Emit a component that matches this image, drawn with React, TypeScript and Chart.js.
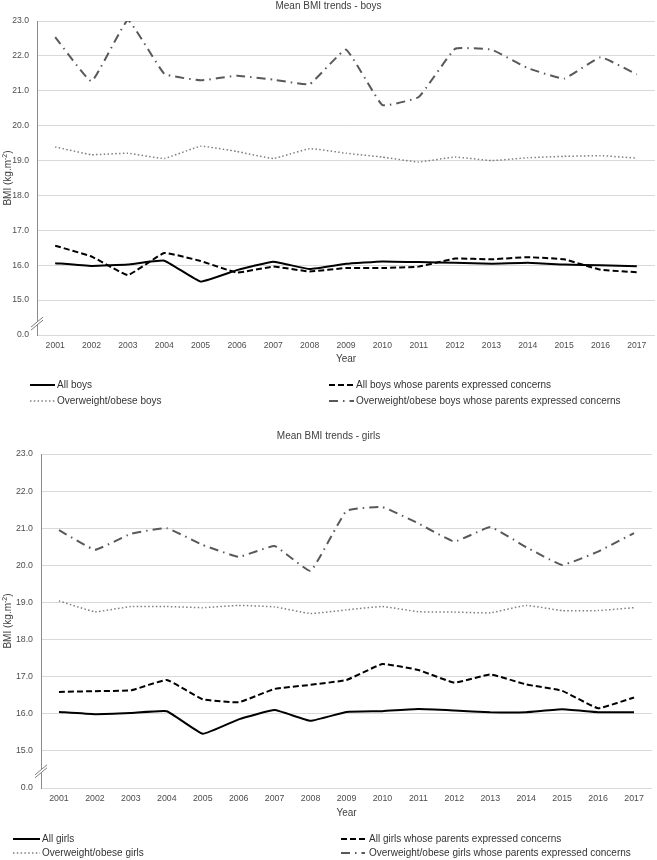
import React, { useEffect, useRef } from 'react';
import { Chart, registerables } from 'chart.js';

Chart.register(...registerables);

const years = ['2001', '2002', '2003', '2004', '2005', '2006', '2007', '2008', '2009', '2010', '2011', '2012', '2013', '2014', '2015', '2016', '2017'];

// y axis: the bottom tick (14) stands for the broken-axis "0.0"
const yMin = 14;
const yMax = 23;
const breakLabel = '0.0';

const boysAll = [16.06, 15.98, 16.02, 16.13, 15.53, 15.86, 16.1, 15.89, 16.04, 16.11, 16.09, 16.07, 16.04, 16.07, 16.02, 16.0, 15.97];
const boysConcern = [16.56, 16.25, 15.72, 16.35, 16.12, 15.79, 15.96, 15.82, 15.92, 15.92, 15.96, 16.19, 16.17, 16.23, 16.17, 15.87, 15.8];
const boysOw = [19.39, 19.17, 19.21, 19.06, 19.41, 19.26, 19.06, 19.34, 19.21, 19.1, 18.96, 19.1, 19.0, 19.08, 19.12, 19.14, 19.07];
const boysOwConcern = [22.54, 21.27, 23.02, 21.49, 21.3, 21.43, 21.32, 21.19, 22.18, 20.59, 20.82, 22.2, 22.18, 21.65, 21.35, 21.96, 21.47];

const girlsAll = [16.05, 15.99, 16.02, 16.07, 15.46, 15.85, 16.1, 15.81, 16.05, 16.07, 16.13, 16.09, 16.04, 16.04, 16.12, 16.04, 16.04];
const girlsConcern = [16.59, 16.61, 16.63, 16.91, 16.39, 16.31, 16.67, 16.78, 16.91, 17.34, 17.18, 16.84, 17.06, 16.79, 16.62, 16.15, 16.44];
const girlsOw = [19.04, 18.75, 18.89, 18.89, 18.86, 18.92, 18.88, 18.7, 18.8, 18.89, 18.75, 18.74, 18.72, 18.92, 18.78, 18.78, 18.86];
const girlsOwConcern = [20.95, 20.42, 20.85, 21.0, 20.55, 20.23, 20.52, 19.85, 21.47, 21.57, 21.13, 20.64, 21.03, 20.49, 20.01, 20.37, 20.87];

const FONT = '"Liberation Sans", Arial, sans-serif';
const TICK_COLOR = '#4d4d4d';
const GRID_COLOR = '#d9d9d9';

type Style = { color: string; width: number; dash: number[] };
const solidStyle: Style = { color: '#000000', width: 2, dash: [] };
const dashStyle: Style = { color: '#000000', width: 2, dash: [6, 3] };
const dotStyle: Style = { color: '#7f7f7f', width: 1.5, dash: [1.5, 2.3] };
const dashDotStyle: Style = { color: '#595959', width: 2, dash: [9, 5, 1.5, 5] };

type Geom = {
  canvasH: number;
  axisW: number;
  padRight: number;
  padTop: number;
  plotBottom: number;
  titleY: number;
  yearY: number;
  legendRows: number[];
  leftLine: number[];
  leftText: number;
  rightLine: number[];
  rightText: number;
  breakValue: number;
  tickSize: number;
};

type PanelProps = {
  top: number;
  title: string;
  labels: string[];
  values: number[][];
  geom: Geom;
};

const styles = [solidStyle, dashStyle, dotStyle, dashDotStyle];

function Panel({ top, title, labels, values, geom }: PanelProps) {
  const ref = useRef<HTMLCanvasElement | null>(null);

  useEffect(() => {
    if (!ref.current) return;
    const W = 657;
    const decor = {
      id: 'decor',
      afterDraw(chart: any) {
        const ctx = chart.ctx as CanvasRenderingContext2D;
        const area = chart.chartArea;
        const yScale = chart.scales.y;
        ctx.save();
        // title
        ctx.fillStyle = '#404040';
        ctx.font = `10px ${FONT}`;
        ctx.textAlign = 'center';
        ctx.textBaseline = 'middle';
        ctx.fillText(title, W / 2, geom.titleY);
        // x title
        ctx.fillText('Year', (area.left + area.right) / 2, geom.yearY);
        // y title (rotated, with superscript)
        const cy = (area.top + area.bottom) / 2;
        ctx.translate(8, cy);
        ctx.rotate(-Math.PI / 2);
        ctx.textAlign = 'left';
        const p1 = 'BMI (kg.m';
        const p2 = '-2';
        const p3 = ')';
        ctx.font = `10px ${FONT}`;
        const w1 = ctx.measureText(p1).width;
        const w3 = ctx.measureText(p3).width;
        ctx.font = `7px ${FONT}`;
        const w2 = ctx.measureText(p2).width;
        const total = w1 + w2 + w3;
        let x = -total / 2;
        ctx.font = `10px ${FONT}`;
        ctx.fillText(p1, x, 0);
        x += w1;
        ctx.font = `7px ${FONT}`;
        ctx.fillText(p2, x, -3);
        x += w2;
        ctx.font = `10px ${FONT}`;
        ctx.fillText(p3, x, 0);
        ctx.restore();

        // axis break mark
        ctx.save();
        const bx = area.left;
        const by = yScale.getPixelForValue(geom.breakValue);
        ctx.fillStyle = '#ffffff';
        ctx.beginPath();
        ctx.moveTo(bx - 6, by + 5);
        ctx.lineTo(bx + 6, by - 5);
        ctx.lineTo(bx + 6, by - 2);
        ctx.lineTo(bx - 6, by + 8);
        ctx.closePath();
        ctx.fill();
        ctx.strokeStyle = '#7f7f7f';
        ctx.lineWidth = 1;
        ctx.beginPath();
        ctx.moveTo(bx - 6, by + 5);
        ctx.lineTo(bx + 6, by - 5);
        ctx.moveTo(bx - 6, by + 8);
        ctx.lineTo(bx + 6, by - 2);
        ctx.stroke();
        ctx.restore();

        // legend
        ctx.save();
        ctx.font = `10px ${FONT}`;
        ctx.textBaseline = 'middle';
        ctx.textAlign = 'left';
        const slots = [
          { line: geom.leftLine, text: geom.leftText, row: 0 },
          { line: geom.rightLine, text: geom.rightText, row: 0 },
          { line: geom.leftLine, text: geom.leftText, row: 1 },
          { line: geom.rightLine, text: geom.rightText, row: 1 },
        ];
        chart.data.datasets.forEach((ds: any, i: number) => {
          const s = slots[i];
          const y = geom.legendRows[s.row];
          ctx.strokeStyle = ds.borderColor;
          ctx.lineWidth = ds.borderWidth;
          ctx.setLineDash(ds.borderDash || []);
          ctx.beginPath();
          ctx.moveTo(s.line[0], y);
          ctx.lineTo(s.line[1], y);
          ctx.stroke();
          ctx.setLineDash([]);
          ctx.fillStyle = '#333333';
          ctx.fillText(ds.label, s.text, y);
        });
        ctx.restore();
      },
    };

    const chart = new Chart(ref.current, {
      type: 'line',
      data: {
        labels: years,
        datasets: values.map((v, i) => ({
          label: labels[i],
          data: v,
          borderColor: styles[i].color,
          borderWidth: styles[i].width,
          borderDash: styles[i].dash,
          pointRadius: 0,
          fill: false,
          tension: 0.1,
          order: 3 - i,
        })),
      },
      options: {
        responsive: false,
        animation: false,
        layout: {
          padding: {
            left: 0,
            right: geom.padRight,
            top: geom.padTop,
            bottom: geom.canvasH - geom.plotBottom - 20,
          },
        },
        plugins: {
          legend: { display: false },
          title: { display: false },
          tooltip: { enabled: false },
        },
        scales: {
          x: {
            type: 'category',
            offset: true,
            grid: { display: false, drawTicks: false },
            border: { display: false },
            ticks: {
              color: TICK_COLOR,
              font: { family: FONT, size: geom.tickSize },
              padding: 5,
              maxRotation: 0,
              autoSkip: false,
            },
            afterFit: (s: any) => {
              s.height = 20;
            },
          },
          y: {
            type: 'linear',
            min: yMin,
            max: yMax,
            grid: { color: GRID_COLOR, lineWidth: 1, drawTicks: false },
            border: { display: true, color: '#8c8c8c', width: 1 },
            ticks: {
              stepSize: 1,
              color: TICK_COLOR,
              font: { family: FONT, size: geom.tickSize },
              padding: 8,
              callback: (v: any) => (Number(v) === yMin ? breakLabel : Number(v).toFixed(1)),
            },
            afterFit: (s: any) => {
              s.width = geom.axisW;
            },
          },
        },
      },
      plugins: [decor],
    } as any);
    return () => chart.destroy();
  }, []);

  return (
    <div style={{ position: 'absolute', left: 0, top, width: 657, height: geom.canvasH }}>
      <canvas ref={ref} width={657} height={geom.canvasH} style={{ display: 'block' }} />
    </div>
  );
}

const boysLabels = ['All boys', 'All boys whose parents expressed concerns', 'Overweight/obese boys', 'Overweight/obese boys whose parents expressed concerns'];
const girlsLabels = ['All girls', 'All girls whose parents expressed concerns', 'Overweight/obese girls', 'Overweight/obese girls whose parents expressed concerns'];

const boysGeom: Geom = {
  canvasH: 420,
  axisW: 37,
  padRight: 2,
  padTop: 21,
  plotBottom: 335,
  titleY: 6,
  yearY: 359,
  legendRows: [385, 401],
  leftLine: [30, 55],
  leftText: 57,
  rightLine: [329, 354],
  rightText: 356,
  breakValue: 14.37,
  tickSize: 8.6,
};

const girlsGeom: Geom = {
  canvasH: 440,
  axisW: 41,
  padRight: 5,
  padTop: 34,
  plotBottom: 368,
  titleY: 16,
  yearY: 393,
  legendRows: [419, 433],
  leftLine: [13, 40],
  leftText: 42,
  rightLine: [341, 365],
  rightText: 369,
  breakValue: 14.49,
  tickSize: 8.8,
};

export default function App() {
  return (
    <div style={{ position: 'absolute', left: 0, top: 0, width: 657, height: 860, background: '#ffffff' }}>
      <Panel
        top={0}
        title="Mean BMI trends - boys"
        labels={boysLabels}
        values={[boysAll, boysConcern, boysOw, boysOwConcern]}
        geom={boysGeom}
      />
      <Panel
        top={420}
        title="Mean BMI trends - girls"
        labels={girlsLabels}
        values={[girlsAll, girlsConcern, girlsOw, girlsOwConcern]}
        geom={girlsGeom}
      />
    </div>
  );
}
